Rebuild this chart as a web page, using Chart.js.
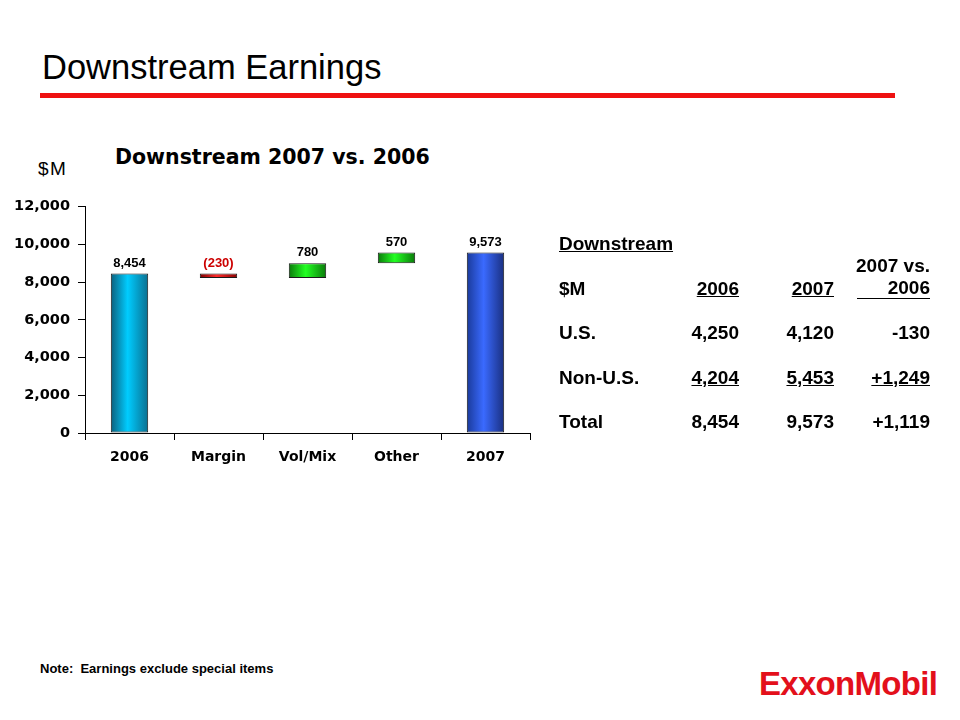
<!DOCTYPE html>
<html>
<head>
<meta charset="utf-8">
<script src="https://cdn.jsdelivr.net/npm/chart.js@4/dist/chart.umd.min.js"></script>
<style>
  body { margin: 0; background: #fff; font-family: "Liberation Sans", Arial, sans-serif; }
  #page { position: relative; width: 960px; height: 720px; overflow: hidden; }
  .abs { position: absolute; white-space: nowrap; color: #000; }
  #title { left: 42px; top: 48px; font-size: 34.5px; }
  #rule { left: 40px; top: 93px; width: 855px; height: 5px; background: #ee1111; }
  #ctitle { left: 115px; top: 145px; font-size: 20.5px; font-weight: bold; font-family: "DejaVu Sans", sans-serif; }
  #unit { left: 38px; top: 158px; font-size: 19px; letter-spacing: 1.5px; }
  #wrap { position: absolute; left: 0; top: 190px; width: 560px; height: 290px; }
  .t { font-size: 19px; font-weight: bold; }
  .r { text-align: right; }
  .u { text-decoration: underline; }
  #note { left: 40px; top: 661px; font-size: 13px; font-weight: bold; }
  #logo { left: 759px; top: 665px; font-size: 33px; font-weight: bold; color: #e3101b; letter-spacing: -0.7px; }
</style>
</head>
<body>
<div id="page">
  <div class="abs" id="title">Downstream Earnings</div>
  <div class="abs" id="rule"></div>
  <div class="abs" id="ctitle">Downstream 2007 vs. 2006</div>
  <div class="abs" id="unit">$M</div>
  <div id="wrap"><canvas id="waterfall"></canvas></div>
  <div id="table"></div>
  <div class="abs" id="note">Note:&nbsp; Earnings exclude special items</div>
  <div class="abs" id="logo">ExxonMobil</div>
</div>
<script>
// chart data
var categories = ['2006', 'Margin', 'Vol/Mix', 'Other', '2007'];
var startValue = 8454;
var deltas = [-230, 780, 570];
var endValue = 9573;
var yTicks = [0, 2000, 4000, 6000, 8000, 10000, 12000];

// table data
var tableCols = ['2006', '2007', '2007 vs.|2006'];
var tableRows = ['U.S.', 'Non-U.S.', 'Total'];
var usValues = ['4,250', '4,120', '-130'];
var nonUsValues = ['4,204', '5,453', '+1,249'];
var totalValues = ['8,454', '9,573', '+1,119'];

// build floating ranges from the running total
var ranges = [[0, startValue]];
var labelValues = [startValue];
var running = startValue;
deltas.forEach(function (d) {
    ranges.push([running, running + d]);
    labelValues.push(d);
    running += d;
});
ranges.push([0, endValue]);
labelValues.push(endValue);

var palettes = [
    ['#0b5f7c', '#00ccff', '#0a6f90'],
    ['#7a0000', '#ff2a2a', '#8a0000'],
    ['#0a7a0a', '#22ff22', '#0a7a0a'],
    ['#0a7a0a', '#22ff22', '#0a7a0a'],
    ['#1a3a9a', '#3a6aff', '#1a2f80']
];

function barFill(c) {
    var chart = c.chart;
    var pal = palettes[c.dataIndex] || palettes[0];
    if (!chart.chartArea || !chart.scales.x) return pal[1];
    var xs = chart.scales.x;
    var cx = xs.getPixelForValue(c.dataIndex);
    var half = (xs.width / categories.length) * 0.42 / 2;
    var g = chart.ctx.createLinearGradient(cx - half, 0, cx + half, 0);
    g.addColorStop(0, pal[0]);
    g.addColorStop(0.45, pal[1]);
    g.addColorStop(1, pal[2]);
    return g;
}

var fmt = function (v) {
    var s = Math.abs(v).toLocaleString('en-US');
    return v < 0 ? '(' + s + ')' : s;
};

var barLabels = {
    id: 'barLabels',
    afterDatasetsDraw: function (chart) {
        var ctx = chart.ctx;
        var meta = chart.getDatasetMeta(0);
        ctx.save();
        ctx.font = 'bold 13px "Liberation Sans", Arial, sans-serif';
        ctx.textAlign = 'center';
        ctx.textBaseline = 'bottom';
        meta.data.forEach(function (el, i) {
            var v = labelValues[i];
            var top = Math.min(el.y, el.base);
            ctx.fillStyle = v < 0 ? '#cc0000' : '#000';
            ctx.fillText(fmt(v), el.x, top - 4);
        });
        ctx.restore();
    }
};

Chart.defaults.font.family = '"DejaVu Sans", sans-serif';
Chart.defaults.color = '#000';

new Chart(document.getElementById('waterfall'), {
    type: 'bar',
    data: {
        labels: categories,
        datasets: [{
            data: ranges,
            backgroundColor: barFill,
            borderColor: '#1a1a1a',
            borderWidth: 1,
            borderSkipped: false,
            categoryPercentage: 1,
            barPercentage: 0.42
        }]
    },
    options: {
        responsive: true, maintainAspectRatio: false, animation: false,
        layout: { padding: { left: 0, right: 30, top: 15, bottom: 0 } },
        plugins: { legend: { display: false }, tooltip: { enabled: false } },
        scales: {
            x: {
                grid: { display: true, drawOnChartArea: false, offset: true, tickLength: 7, color: '#000' },
                border: { color: '#000', width: 1 },
                ticks: { font: { size: 14, weight: 'bold' }, padding: 9 },
                afterFit: function (s) { s.height = 47; }
            },
            y: {
                min: 0, max: 12000,
                afterBuildTicks: function (s) { s.ticks = yTicks.map(function (v) { return { value: v }; }); },
                grid: { display: true, drawOnChartArea: false, tickLength: 7, color: '#000' },
                border: { color: '#000', width: 1 },
                ticks: {
                    font: { size: 14.5, weight: 'bold' }, padding: 8,
                    callback: function (v) { return v.toLocaleString('en-US'); }
                },
                afterFit: function (s) { s.width = 85; }
            }
        }
    },
    plugins: [barLabels]
});

// table on the right
var table = document.getElementById('table');
var colRight = [739, 834, 930];
function addText(txt, left, right, top, cls) {
    var d = document.createElement('div');
    d.className = 'abs t ' + (cls || '');
    d.textContent = txt;
    d.style.top = top + 'px';
    if (right != null) { d.style.right = (960 - right) + 'px'; } else { d.style.left = left + 'px'; }
    table.appendChild(d);
    return d;
}
addText('Downstream', 559, null, 233, 'u');
addText('$M', 559, null, 278);
tableCols.forEach(function (c, i) {
    var parts = c.split('|');
    if (parts.length > 1) {
        addText(parts[0], null, colRight[i], 255);
        var d = addText(parts[1], null, colRight[i], 278);
        d.style.borderBottom = '1px solid #000';
        d.style.width = '73px';
        d.style.textAlign = 'right';
        d.style.lineHeight = '20px';
    } else {
        addText(parts[0], null, colRight[i], 278, 'u');
    }
});
var rowsTop = [322, 367, 411];
var rowVals = [usValues, nonUsValues, totalValues];
tableRows.forEach(function (r, j) {
    addText(r, 559, null, rowsTop[j]);
    rowVals[j].forEach(function (v, i) {
        addText(v, null, colRight[i], rowsTop[j], j === 1 ? 'u' : '');
    });
});
</script>
</body>
</html>
